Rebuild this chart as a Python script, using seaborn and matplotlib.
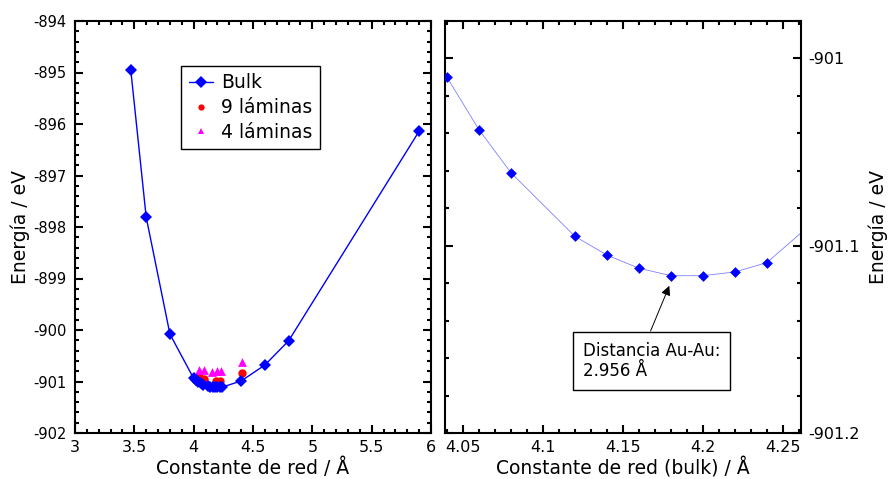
import numpy as np
import pandas as pd
import matplotlib
matplotlib.use("Agg")
import matplotlib.pyplot as plt
from matplotlib.ticker import MultipleLocator
from matplotlib.lines import Line2D
import seaborn as sns

# ---------------- data ----------------
bulk_x = [3.47, 3.6, 3.8, 4.0, 4.02, 4.04, 4.06, 4.08, 4.12, 4.14, 4.16, 4.18,
          4.2, 4.22, 4.24, 4.4, 4.6, 4.8, 5.9]
bulk_y = [-894.95, -897.81, -900.08, -900.94, -900.977, -901.010, -901.038,
          -901.061, -901.095, -901.105, -901.112, -901.116, -901.116, -901.114,
          -901.109, -900.99, -900.68, -900.21, -896.14]
lam9_x = [4.045, 4.088, 4.185, 4.222, 4.41]
lam9_y = [-900.91, -900.95, -900.985, -900.985, -900.83]
lam4_x = [4.045, 4.087, 4.152, 4.194, 4.23, 4.41]
lam4_y = [-900.78, -900.78, -900.81, -900.79, -900.79, -900.615]

left_xticks = [3, 3.5, 4, 4.5, 5, 5.5, 6]
left_yticks = [-902, -901, -900, -899, -898, -897, -896, -895, -894]
right_xticks = [4.05, 4.1, 4.15, 4.2, 4.25]
right_yticks = [-901.2, -901.1, -901.0]

bulk = pd.DataFrame({"x": bulk_x, "y": bulk_y})
l9 = pd.DataFrame({"x": lam9_x, "y": lam9_y})
l4 = pd.DataFrame({"x": lam4_x, "y": lam4_y})

# ---------------- style ----------------
sns.set_style("ticks")
plt.rcParams["font.family"] = ["DejaVu Sans"]
plt.rcParams.update({
    "xtick.direction": "in", "ytick.direction": "in",
    "xtick.top": True, "ytick.right": True,
    "xtick.major.size": 6, "ytick.major.size": 6,
    "xtick.minor.size": 3, "ytick.minor.size": 3,
    "xtick.major.width": 1.5, "ytick.major.width": 1.5,
    "xtick.minor.width": 1.5, "ytick.minor.width": 1.5,
    "axes.linewidth": 1.5, "axes.edgecolor": "black",
    "xtick.color": "black", "ytick.color": "black",
    "text.color": "black", "axes.labelcolor": "black",
    "xtick.labelcolor": "black", "ytick.labelcolor": "black",
})

fig = plt.figure(figsize=(8.9, 4.79), dpi=100)
ax1 = fig.add_axes([75 / 890, 46 / 479, 356 / 890, 412 / 479])
ax2 = fig.add_axes([445 / 890, 46 / 479, 356 / 890, 412 / 479])

# ---------------- left panel ----------------
sns.lineplot(data=bulk, x="x", y="y", ax=ax1, sort=False, color="#0000ff",
             linewidth=1.0, marker="D", markersize=6.5, markeredgewidth=0,
             estimator=None)
sns.scatterplot(data=l9, x="x", y="y", ax=ax1, color="#ff0000", marker="o",
                s=36, linewidth=0)
sns.scatterplot(data=l4, x="x", y="y", ax=ax1, color="#ff00ff", marker="^",
                s=40, linewidth=0)

ax1.set_xlim(3, 6)
ax1.set_ylim(-902, -894)
ax1.set_xticks(left_xticks)
ax1.set_xticklabels([f"{v:g}" for v in left_xticks])
ax1.set_yticks(left_yticks)
ax1.set_yticklabels([f"{v:g}" for v in left_yticks])
ax1.xaxis.set_minor_locator(MultipleLocator(0.1))
ax1.yaxis.set_minor_locator(MultipleLocator(0.2))
ax1.tick_params(axis="x", which="both", top=True, bottom=True, labelsize=11.5, pad=5)
ax1.tick_params(axis="y", which="both", left=True, right=True, labelsize=10.5, pad=6)
ax1.tick_params(which="minor", length=3)
ax1.set_xlabel("Constante de red / Å", fontsize=13.5, labelpad=2)
ax1.set_ylabel("Energía / eV", fontsize=13.5)
ax1.yaxis.set_label_coords(-0.125, 0.5)

handles = [
    Line2D([], [], color="#0000ff", linewidth=1.0, marker="D", markersize=6,
           markeredgewidth=0),
    Line2D([], [], color="#ff0000", linestyle="none", marker="o", markersize=4.5,
           markeredgewidth=0),
    Line2D([], [], color="#ff00ff", linestyle="none", marker="^", markersize=5,
           markeredgewidth=0),
]
leg = ax1.legend(handles, ["Bulk", "9 láminas", "4 láminas"], loc="upper left",
                 bbox_to_anchor=(181 / 890, 1 - 66 / 479),
                 bbox_transform=fig.transFigure, borderaxespad=0,
                 fontsize=13.5, frameon=True, fancybox=False, framealpha=1,
                 edgecolor="black", handlelength=1.3, handletextpad=0.45,
                 labelspacing=0.3, borderpad=0.4)
leg.get_frame().set_linewidth(1.0)
for t in leg.get_texts():
    t.set_color("black")

# ---------------- right panel ----------------
sns.lineplot(data=bulk, x="x", y="y", ax=ax2, sort=False, color="#8080ff",
             linewidth=0.6, estimator=None)
sns.scatterplot(data=bulk, x="x", y="y", ax=ax2, color="#0000ff", marker="D",
                s=30, linewidth=0, zorder=3)

ax2.set_xlim(4.0388, 4.2613)
ax2.set_ylim(-901.2, -900.98)
ax2.set_xticks(right_xticks)
ax2.set_xticklabels([f"{v:g}" for v in right_xticks])
ax2.set_yticks(right_yticks)
ax2.set_yticklabels([f"{v:g}" for v in right_yticks])
ax2.xaxis.set_minor_locator(MultipleLocator(0.01))
ax2.yaxis.set_minor_locator(MultipleLocator(0.02))
ax2.tick_params(axis="x", which="both", top=True, bottom=True, labelsize=11.5, pad=5)
ax2.tick_params(axis="y", which="both", left=True, right=True, labelleft=False,
                labelright=True, labelsize=11.5, pad=5)
ax2.tick_params(which="minor", length=3)
ax2.set_xlabel("Constante de red (bulk) / Å", fontsize=13.5, labelpad=2)
ax2.set_ylabel("Energía / eV", fontsize=13.5, rotation=90)
ax2.yaxis.set_label_position("right")
ax2.yaxis.set_label_coords(1.19, 0.5)

ax2.annotate("Distancia Au-Au:\n2.956 Å", xy=(4.179, -901.1214),
             xytext=(4.168, -901.1615), textcoords="data",
             ha="center", va="center", multialignment="left", fontsize=12,
             color="black",
             bbox=dict(boxstyle="square,pad=0.6", fc="white", ec="black", lw=1.0),
             arrowprops=dict(arrowstyle="-|>", color="black", lw=0.7,
                             mutation_scale=14, shrinkA=0, shrinkB=0,
                             relpos=(0.46, 1.0)))

fig.savefig("out.png", dpi=100)
